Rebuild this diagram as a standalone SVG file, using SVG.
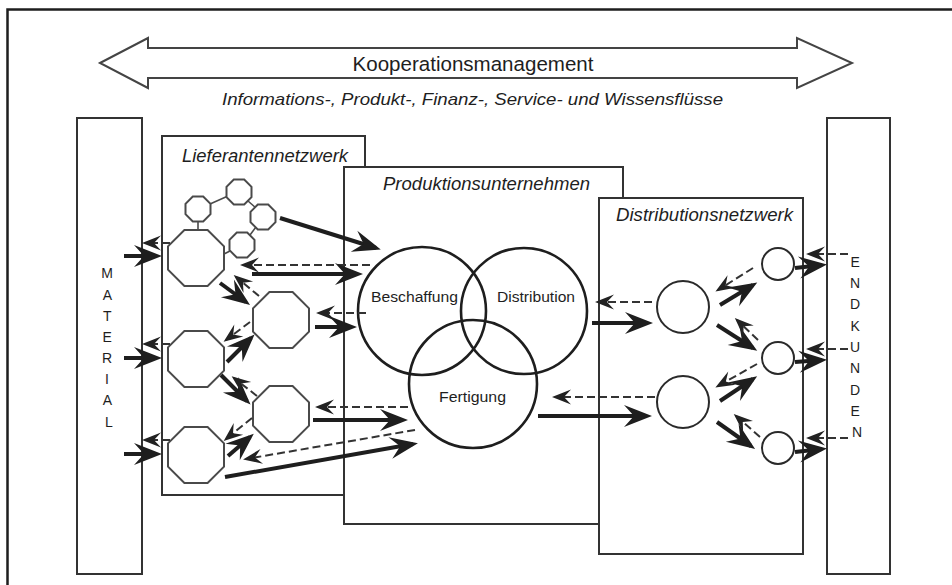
<svg xmlns="http://www.w3.org/2000/svg" xmlns:xlink="http://www.w3.org/1999/xlink" width="952" height="585" viewBox="0 0 952 585">
  <style>
    .box { fill: #fff; stroke: #333; stroke-width: 2; }
    .oct { fill: #fff; stroke: #4a4a4a; stroke-width: 2; }
    .ring { fill: none; stroke: #1e1e1e; stroke-width: 2.6; }
    .node { fill: #fff; stroke: #2a2a2a; stroke-width: 2; }
    .link { stroke: #4a4a4a; stroke-width: 1.6; fill: none; }
    .label { font-family: "Liberation Sans", Arial, sans-serif; fill: #1e1e1e; }
    .title { font-family: "Liberation Sans", Arial, sans-serif; font-style: italic; fill: #1e1e1e; font-size: 18px; }
    .flow { stroke: #1e1e1e; stroke-width: 4; fill: none; marker-end: url(#head-solid); }
    .back { stroke: #333; stroke-width: 2; fill: none; stroke-dasharray: 8 4; marker-end: url(#head-dash); }
  </style>
  <defs>
    <marker id="head-solid" viewBox="-29 -12 30 24" refX="-5" refY="0" markerWidth="30" markerHeight="24" orient="auto" markerUnits="userSpaceOnUse">
      <path d="M0,0 L-28,-11 L-18,0 L-28,11 z" fill="#1e1e1e"/>
    </marker>
    <marker id="head-dash" viewBox="-20 -8 21 16" refX="-3" refY="0" markerWidth="21" markerHeight="16" orient="auto" markerUnits="userSpaceOnUse">
      <path d="M0,0 L-19,-7.5 L-12,0 L-19,7.5 z" fill="#222"/>
    </marker>
    <polygon id="oct-big" points="-11.6,-28 11.6,-28 28,-11.6 28,11.6 11.6,28 -11.6,28 -28,11.6 -28,-11.6"/>
    <polygon id="oct-small" points="-5.2,-12.5 5.2,-12.5 12.5,-5.2 12.5,5.2 5.2,12.5 -5.2,12.5 -12.5,5.2 -12.5,-5.2"/>
  </defs>

  <rect width="952" height="585" fill="#fff"/>

  <!-- outer frame (top and left edges) -->
  <path id="frame" d="M7.5,585 V9.5 H952" fill="none" stroke="#1e1e1e" stroke-width="2.5"/>

  <!-- cooperation management banner -->
  <g id="banner">
    <polygon points="100,63 148,38 148,48 797,48 797,38 852,63 797,88 797,78 148,78 148,88" fill="#fff" stroke="#444" stroke-width="2"/>
    <text class="label" x="473" y="71" font-size="20.5" text-anchor="middle" textLength="241" lengthAdjust="spacingAndGlyphs">Kooperationsmanagement</text>
    <text class="label" x="222" y="105" font-size="17" font-style="italic" textLength="501" lengthAdjust="spacingAndGlyphs">Informations-, Produkt-, Finanz-, Service- und Wissensflüsse</text>
  </g>

  <!-- material column -->
  <g id="material">
    <rect class="box" x="77" y="118" width="65" height="456"/>
    <text class="label" font-size="14" text-anchor="middle">
      <tspan x="109" y="278">M</tspan>
      <tspan x="109" y="300">A</tspan>
      <tspan x="109" y="321">T</tspan>
      <tspan x="109" y="342">E</tspan>
      <tspan x="109" y="363">R</tspan>
      <tspan x="109" y="384">I</tspan>
      <tspan x="109" y="405">A</tspan>
      <tspan x="109" y="427">L</tspan>
    </text>
  </g>

  <!-- end customers column -->
  <g id="endkunden">
    <rect class="box" x="827" y="118" width="63" height="456"/>
    <text class="label" font-size="14" text-anchor="middle">
      <tspan x="857" y="267">E</tspan>
      <tspan x="857" y="288">N</tspan>
      <tspan x="857" y="309">D</tspan>
      <tspan x="857" y="331">K</tspan>
      <tspan x="857" y="352">U</tspan>
      <tspan x="857" y="373">N</tspan>
      <tspan x="857" y="395">D</tspan>
      <tspan x="857" y="416">E</tspan>
      <tspan x="857" y="437">N</tspan>
    </text>
  </g>

  <!-- supplier network -->
  <g id="lieferantennetzwerk">
    <rect class="box" x="162" y="136" width="203" height="359"/>
    <text class="title" x="182" y="162" textLength="166" lengthAdjust="spacingAndGlyphs">Lieferantennetzwerk</text>
    <g id="supplier-ring-links">
      <line class="link" x1="210" y1="204" x2="228" y2="196"/>
      <line class="link" x1="248" y1="201" x2="256" y2="208"/>
      <line class="link" x1="256" y1="227" x2="250" y2="235"/>
      <line class="link" x1="198" y1="222" x2="198" y2="230"/>
      <line class="link" x1="230" y1="251" x2="224" y2="254"/>
    </g>
    <g id="supplier-a"><use xlink:href="#oct-small" class="oct" x="198" y="209"/></g>
    <g id="supplier-b"><use xlink:href="#oct-small" class="oct" x="239" y="192"/></g>
    <g id="supplier-c"><use xlink:href="#oct-small" class="oct" x="263" y="217"/></g>
    <g id="supplier-d"><use xlink:href="#oct-small" class="oct" x="242" y="245"/></g>
    <g id="supplier-1"><use xlink:href="#oct-big" class="oct" x="196" y="258"/></g>
    <g id="supplier-2"><use xlink:href="#oct-big" class="oct" x="196" y="359"/></g>
    <g id="supplier-3"><use xlink:href="#oct-big" class="oct" x="196" y="455"/></g>
    <g id="supplier-4"><use xlink:href="#oct-big" class="oct" x="281" y="320"/></g>
    <g id="supplier-5"><use xlink:href="#oct-big" class="oct" x="281" y="414"/></g>
  </g>

  <!-- manufacturing company -->
  <g id="produktionsunternehmen">
    <rect class="box" x="344" y="167" width="279" height="357"/>
    <text class="title" x="383" y="190" textLength="207" lengthAdjust="spacingAndGlyphs">Produktionsunternehmen</text>
    <g id="beschaffung">
      <circle class="ring" cx="422" cy="311" r="64"/>
      <text class="label" x="371" y="302" font-size="15.5" textLength="87" lengthAdjust="spacingAndGlyphs">Beschaffung</text>
    </g>
    <g id="distribution">
      <circle class="ring" cx="524" cy="311" r="63"/>
      <text class="label" x="497" y="302" font-size="15.5" textLength="78" lengthAdjust="spacingAndGlyphs">Distribution</text>
    </g>
    <g id="fertigung">
      <circle class="ring" cx="473" cy="384" r="64"/>
      <text class="label" x="439" y="402" font-size="15.5" textLength="67" lengthAdjust="spacingAndGlyphs">Fertigung</text>
    </g>
  </g>

  <!-- distribution network -->
  <g id="distributionsnetzwerk">
    <rect class="box" x="599" y="198" width="204" height="356"/>
    <text class="title" x="616" y="221" textLength="177" lengthAdjust="spacingAndGlyphs">Distributionsnetzwerk</text>
    <g id="hub-1"><circle class="node" cx="683" cy="307" r="26"/></g>
    <g id="hub-2"><circle class="node" cx="683" cy="402" r="26"/></g>
    <g id="outlet-1"><circle class="node" cx="778" cy="264" r="16"/></g>
    <g id="outlet-2"><circle class="node" cx="778" cy="358" r="16"/></g>
    <g id="outlet-3"><circle class="node" cx="778" cy="448" r="16"/></g>
  </g>

  <!-- flows: solid = goods, dashed = return/information -->
  <g id="connectors">
    <!-- material inflow -->
    <line class="flow" x1="124" y1="256" x2="157" y2="256"/>
    <line class="back" x1="170" y1="243" x2="145" y2="243"/>
    <line class="flow" x1="124" y1="358" x2="157" y2="358"/>
    <line class="back" x1="170" y1="344" x2="145" y2="344"/>
    <line class="flow" x1="124" y1="454" x2="157" y2="454"/>
    <line class="back" x1="170" y1="440" x2="145" y2="440"/>

    <!-- supplier network to procurement -->
    <line class="flow" x1="280" y1="218" x2="376" y2="248"/>
    <line class="back" x1="370" y1="265" x2="243" y2="265"/>
    <line class="flow" x1="252" y1="274" x2="358" y2="274"/>

    <line class="flow" x1="220" y1="283" x2="246" y2="302"/>
    <line class="back" x1="259" y1="296" x2="236" y2="277"/>
    <line class="back" x1="366" y1="313" x2="319" y2="313"/>
    <line class="flow" x1="315" y1="327" x2="352" y2="327"/>

    <line class="back" x1="250" y1="322" x2="226" y2="340"/>
    <line class="flow" x1="227" y1="362" x2="251" y2="338"/>

    <line class="flow" x1="221" y1="375" x2="247" y2="401"/>
    <line class="back" x1="257" y1="396" x2="234" y2="378"/>

    <line class="back" x1="252" y1="418" x2="226" y2="439"/>
    <line class="flow" x1="228" y1="456" x2="250" y2="437"/>

    <!-- manufacturing links -->
    <line class="back" x1="408" y1="407" x2="318" y2="407"/>
    <line class="flow" x1="313" y1="420" x2="403" y2="420"/>
    <line class="back" x1="415" y1="430" x2="246" y2="459"/>
    <line class="flow" x1="225" y1="477" x2="413" y2="444"/>

    <!-- company to distribution network -->
    <line class="back" x1="652" y1="302" x2="598" y2="302"/>
    <line class="flow" x1="592" y1="323" x2="648" y2="323"/>
    <line class="back" x1="655" y1="397" x2="555" y2="397"/>
    <line class="flow" x1="538" y1="416" x2="647" y2="416"/>

    <!-- hubs to outlets -->
    <line class="back" x1="753" y1="268" x2="718" y2="290"/>
    <line class="flow" x1="720" y1="305" x2="753" y2="285"/>
    <line class="flow" x1="717" y1="325" x2="753" y2="348"/>
    <line class="back" x1="758" y1="340" x2="737" y2="320"/>
    <line class="back" x1="757" y1="364" x2="718" y2="386"/>
    <line class="flow" x1="720" y1="401" x2="753" y2="379"/>
    <line class="flow" x1="717" y1="422" x2="751" y2="446"/>
    <line class="back" x1="760" y1="437" x2="736" y2="416"/>

    <!-- outlets to end customers -->
    <line class="flow" x1="795" y1="268" x2="822" y2="265"/>
    <line class="back" x1="848" y1="254" x2="809" y2="254"/>
    <line class="flow" x1="795" y1="362" x2="822" y2="360"/>
    <line class="back" x1="848" y1="349" x2="809" y2="349"/>
    <line class="flow" x1="795" y1="452" x2="822" y2="449"/>
    <line class="back" x1="848" y1="438" x2="809" y2="438"/>
  </g>
</svg>
